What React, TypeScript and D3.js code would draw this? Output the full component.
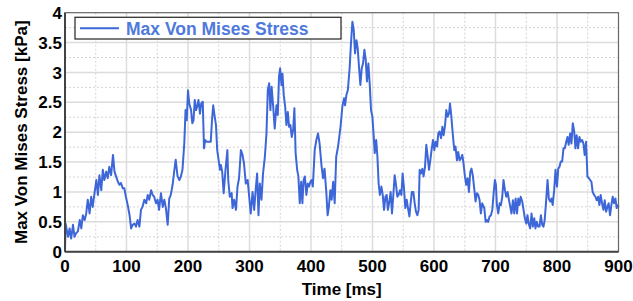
import React from "react";
import * as d3 from "d3";

// values (time in ms, stress in kPa)
const timeMs = [
  0, 1, 5, 7.5, 10, 13, 15.5, 18, 21, 24, 26.5, 29, 32, 34.5, 37, 40, 42.5, 45, 48, 51,
  53.5, 56, 59, 61.5, 64, 67, 69.5, 72, 75, 78, 80.5, 83, 86, 88.5, 91, 94, 96.5, 99, 102, 105,
  107.5, 110, 113, 115.5, 118, 121, 123.5, 126, 129, 132, 134.5, 137, 140, 142.5, 145, 148, 150.5, 153, 156, 159,
  161.5, 164, 167, 169.5, 172, 175, 177.5, 180, 183, 186, 188.5, 191,
  194, 196, 198, 200, 202, 205, 207, 209, 211, 213, 215, 217, 219.5, 221.5, 224, 226, 228, 230, 235, 237,
  239, 241, 243, 245.5, 247.5,
  252, 253.5, 255.6, 258, 261, 264, 265.4, 268, 271, 272.4, 275, 278, 280.5, 283, 286, 288.6, 291, 294, 297, 299.5,
  302, 305, 307.6, 310, 312.4, 314.6, 316.8, 319.5, 322, 325, 327.6, 329.8, 332, 334, 336, 338.5, 341, 343.8, 346, 348,
  349.8, 352, 353.6, 355.7, 358, 360, 362.3, 364.4, 366.5, 368.7, 371, 373, 375, 377.5, 379.5, 381.7, 384, 386, 388, 390,
  392.5, 394.7, 396.8, 399, 401, 403, 406, 408.7, 411.4, 414, 417, 419.6, 422, 425, 427, 429, 431.5, 433.6, 436, 438.5,
  441, 444,
  448, 451, 453.8, 455.4, 457.5, 460, 463, 465, 467.3, 469.5, 471.6, 474, 476, 478, 480.3, 482.5, 484.6, 486.8, 489, 491,
  493.3, 495.4, 497.6, 499.8, 502, 503.6, 506, 508, 510, 512, 514.5, 516.6, 518.8, 521, 523, 525, 527.4, 529.5, 531.7, 533.9,
  536, 538, 540.4, 542.5, 544.7, 547, 549, 551, 553.4, 555.6, 557.7, 560, 562, 564, 566.4, 568.6, 570.7, 572.9, 575, 576.7,
  579, 581, 583, 585.4, 587.5, 589.7, 591.9, 594, 596, 598.4, 600.5, 602.7, 605, 607, 609, 611.5, 613.6, 615.7, 618, 620,
  622.3, 624.5, 626, 628, 629.8, 631.4, 633, 635, 637.3, 639.4, 641.6, 643.8, 646, 648, 650.3, 652.4, 654.6, 656.8, 659, 661,
  663, 665.4, 667.6, 669.8, 672, 674, 676.2, 678.4,
  681.8, 684, 686, 688, 690.4, 692.6, 694.8, 697, 699, 700.7, 702.3, 704.5, 706.7, 708.8, 711, 713, 715.3, 717.5, 719.6, 722,
  724, 726, 728.3, 730.5, 732.7, 735, 737, 739, 741, 743.5, 745.6, 747.8, 750, 752, 754, 756.4, 758.6, 760.8, 763, 765,
  767, 769.4, 771.6, 773.8, 776, 778, 780, 782.4, 784.6, 786.7, 789, 791, 793, 795.4, 797.6, 800, 802, 804, 806.2, 808.4,
  810.6, 812.7, 815, 817, 819, 821.4, 823.5, 825.7, 828, 830, 832, 834.3, 836.5, 838.6, 840.8, 843, 845, 847.3, 849.5, 851.6,
  853.8, 856, 858, 860.3, 862.5, 864.6, 866.8, 869, 871, 873.3, 875.5, 877.6, 879.8, 882, 884, 886.2, 888.4, 890.6, 892.7, 895,
  897, 899.4, 900,
];

const stress = [
  0.02, 0.47, 0.25, 0.39, 0.22, 0.45, 0.25, 0.31, 0.34, 0.53, 0.39, 0.61, 0.53, 0.64, 0.87, 0.64, 0.92, 0.75, 0.98, 1.2,
  0.95, 1.28, 1.03, 1.37, 1.2, 1.34, 1.23, 1.42, 1.28, 1.62, 1.34, 1.26, 1.17, 1.12, 1.15, 1.06, 1.06, 0.92, 0.78, 0.61,
  0.39, 0.45, 0.47, 0.42, 0.53, 0.42, 0.7, 0.75, 0.87, 0.81, 0.95, 0.87, 1.03, 0.95, 0.92, 0.81, 0.87, 0.7, 0.98, 0.75,
  0.87, 0.73, 0.45, 0.89, 0.95, 1.12, 1.34, 1.54, 1.26, 1.2, 1.26, 1.37,
  1.82, 2.37, 2.2, 2.7, 2.48, 2.37, 2.15, 2.2, 2.54, 2.37, 2.43, 2.54, 2.31, 2.48, 2.51, 1.73, 1.87, 1.84, 1.84, 1.84,
  2.2, 2.45, 2.29, 2.12, 1.7,
  1.37, 1.45, 1.34, 0.98, 1.37, 1.7, 1.2, 0.92, 0.98, 0.73, 0.87, 0.7, 1.09, 1.23, 1.7, 1.62, 1.48, 1.14, 1.2, 0.92,
  0.64, 1.0, 0.7, 1.03, 1.31, 0.61, 1.14, 0.87, 1.31, 1.59, 1.98, 2.71, 2.82, 2.37, 2.76, 2.43, 2.06, 2.45, 2.29, 2.93,
  3.07, 2.79, 2.98, 2.62, 2.43, 2.12, 2.34, 2.09, 2.12, 1.92, 2.04, 2.4, 1.65, 1.37, 1.26, 0.81, 1.17, 0.81, 1.2, 1.26,
  0.95, 1.14, 1.09, 1.17, 1.2, 1.09, 1.7, 1.87, 1.98, 1.81, 1.45, 1.23, 1.39, 0.98, 0.61, 0.75, 1.03, 0.87, 1.17, 0.81,
  1.59, 1.76,
  2.09, 2.43, 2.57, 2.45, 2.62, 2.71, 3.1, 3.49, 3.85, 3.71, 3.32, 3.54, 3.4, 3.1, 2.79, 3.07, 3.15, 3.38, 3.21, 2.85,
  3.15, 2.82, 2.37, 2.26, 1.93, 1.65, 1.87, 1.59, 1.14, 0.95, 1.09, 0.95, 0.7, 0.92, 0.95, 0.7, 0.84, 1.0, 0.64, 0.95,
  1.28, 1.14, 0.92, 0.95, 1.03, 0.95, 1.31, 1.09, 0.73, 0.87, 0.73, 0.59, 0.81, 1.0, 1.0, 0.81, 0.67, 0.61, 0.7, 1.37,
  1.31, 1.39, 1.26, 1.42, 1.79, 1.59, 1.37, 1.53, 1.7, 1.87, 1.7, 1.84, 1.76, 1.98, 2.01, 1.9, 2.09, 1.95, 2.12, 2.37,
  2.26, 2.32, 2.48, 2.29, 2.06, 1.87, 1.7, 1.76, 1.53, 1.67, 1.53, 1.56, 1.62, 1.48, 1.26, 1.12, 1.23, 1.0, 1.34, 1.39,
  1.28, 1.06, 0.84, 0.98, 0.95, 0.87, 0.64, 0.81,
  0.73, 0.5, 0.53, 0.5, 0.59, 0.61, 0.7, 0.98, 1.2, 1.12, 0.78, 0.64, 0.81, 0.78, 0.92, 1.2, 1.03, 0.92, 1.0, 0.86,
  0.75, 0.64, 0.86, 0.64, 0.89, 0.64, 0.89, 0.78, 0.92, 0.84, 0.7, 0.56, 0.47, 0.61, 0.47, 0.39, 0.64, 0.42, 0.56, 0.39,
  0.5, 0.42, 0.42, 0.61, 0.45, 0.42, 0.53, 0.86, 1.2, 0.89, 0.84, 0.89, 0.78, 1.03, 1.37, 1.09, 1.39, 1.42, 1.51, 1.51,
  1.73, 1.73, 1.84, 1.92, 1.79, 1.98, 1.81, 2.15, 2.01, 1.73, 1.95, 1.73, 1.92, 1.84, 1.87, 1.81, 1.62, 1.84, 1.26, 1.23,
  1.2, 1.17, 1.0, 0.95, 0.92, 0.86, 0.92, 0.78, 0.95, 0.81, 0.7, 0.86, 0.67, 0.75, 0.81, 0.61, 0.78, 0.92, 0.81, 0.89,
  0.73, 0.78, 0.75,
];

const xTicks = [0, 100, 200, 300, 400, 500, 600, 700, 800, 900];
const xMinor = [50, 150, 250, 350, 450, 550, 650, 750, 850];
const yTicks = [0, 0.5, 1, 1.5, 2, 2.5, 3, 3.5, 4];
const yTickLabels = ["0", "0.5", "1", "1.5", "2", "2.5", "3", "3.5", "4"];
const yMinor = [0.25, 0.75, 1.25, 1.75, 2.25, 2.75, 3.25, 3.75];

const seriesName = "Max Von Mises Stress";
const xTitle = "Time [ms]";
const yTitle = "Max Von Mises Stress [kPa]";

const W = 633, H = 301;
const margin = { top: 12.7, right: 14.5, bottom: 49.3, left: 65 };
const lineColor = "#3d67d8";
const font = "'Liberation Sans', Arial, sans-serif";

export default function App() {
  const x = d3.scaleLinear().domain([0, 900]).range([margin.left, W - margin.right]);
  const y = d3.scaleLinear().domain([0, 4]).range([H - margin.bottom, margin.top]);

  const pts: [number, number][] = timeMs.map((t, i) => [t, stress[i]]);
  const path = d3.line<[number, number]>()
    .x(d => x(d[0]))
    .y(d => y(d[1]))(pts) || "";

  const x0 = x(0), x1 = x(900), y0 = y(0), y1 = y(4);

  return (
    <svg width={W} height={H} style={{ position: "absolute", left: 0, top: 0, background: "#fff" }}
      fontFamily={font}>
      {/* minor grid, dotted */}
      <g stroke="#d4d4d4" strokeWidth={1} strokeDasharray="2,2">
        {xMinor.map(t => <line key={"xm" + t} x1={x(t)} x2={x(t)} y1={y1} y2={y0} />)}
        {yMinor.map(v => <line key={"ym" + v} x1={x0} x2={x1} y1={y(v)} y2={y(v)} />)}
      </g>
      {/* major grid */}
      <g stroke="#dcdcdc" strokeWidth={1.5}>
        {xTicks.slice(1, -1).map(t => <line key={"xg" + t} x1={x(t)} x2={x(t)} y1={y1} y2={y0} />)}
        {yTicks.slice(1, -1).map(v => <line key={"yg" + v} x1={x0} x2={x1} y1={y(v)} y2={y(v)} />)}
      </g>

      <path d={path} fill="none" stroke={lineColor} strokeWidth={2} strokeLinejoin="round" />

      {/* frame */}
      <rect x={x0} y={y1} width={x1 - x0} height={y0 - y1} fill="none" stroke="#666" strokeWidth={1.2} />
      <line x1={x0} x2={x0} y1={y1} y2={y0} stroke="#444" strokeWidth={2} />
      <line x1={x0} x2={x1} y1={y0} y2={y0} stroke="#444" strokeWidth={2} />

      {/* tick labels */}
      <g fontSize={17} fontWeight="bold" fill="#000">
        {xTicks.map(t => (
          <text key={"xt" + t} x={x(t)} y={271.5} textAnchor="middle">{t}</text>
        ))}
        {yTicks.map((v, i) => (
          <text key={"yt" + v} x={62} y={y(v)} dy="0.36em" textAnchor="end">{yTickLabels[i]}</text>
        ))}
      </g>

      {/* axis titles */}
      <text x={(x0 + x1) / 2} y={295} textAnchor="middle" fontSize={17} fontWeight="bold">{xTitle}</text>
      <text transform={`translate(27, ${(y0 + y1) / 2}) rotate(-90)`} textAnchor="middle"
        fontSize={17} fontWeight="bold">{yTitle}</text>

      {/* legend */}
      <rect x={75} y={17.3} width={266} height={21.7} fill="#fff" stroke="#333" strokeWidth={1.3} />
      <line x1={80} x2={119} y1={28.3} y2={28.3} stroke={lineColor} strokeWidth={2} />
      <text x={126} y={34.5} fontSize={17.5} fontWeight="bold" fill="#4f79dc">{seriesName}</text>
    </svg>
  );
}
